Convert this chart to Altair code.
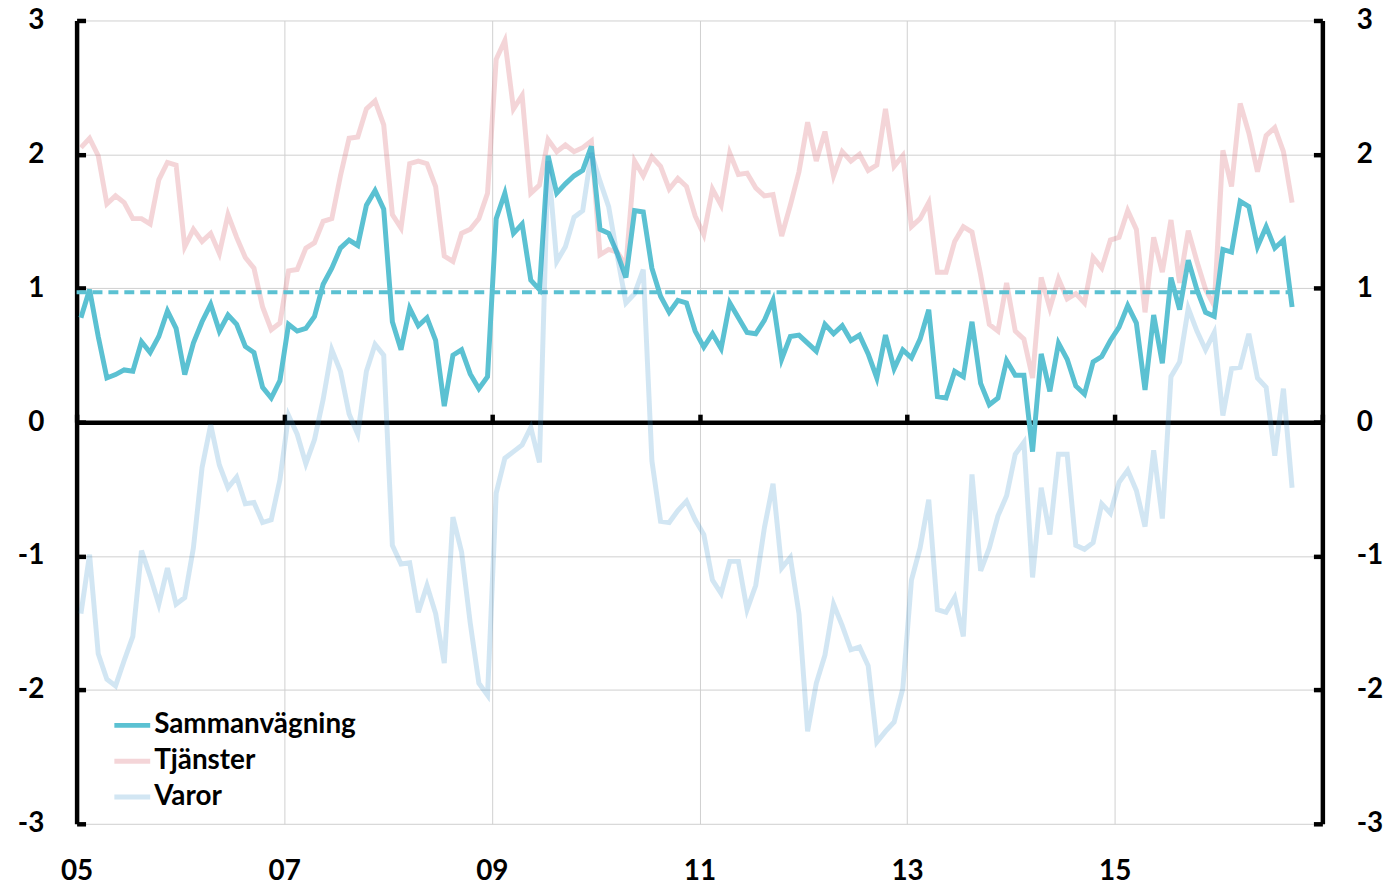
import altair as alt
import pandas as pd

# ---------------- data ----------------
MONTHS = [f"{y}-{m:02d}" for y in range(2005, 2017) for m in range(1, 13)][:141]

SAMMANVAGNING = [
    0.78, 0.99, 0.64, 0.33, 0.355, 0.39, 0.38, 0.60, 0.52, 0.64, 0.83, 0.70,
    0.355, 0.59, 0.75, 0.88, 0.68, 0.80, 0.73, 0.565, 0.52, 0.26, 0.18, 0.31,
    0.73, 0.68, 0.70, 0.79, 1.03, 1.15, 1.30, 1.36, 1.32, 1.62, 1.73, 1.59,
    0.75, 0.54, 0.85, 0.72, 0.78, 0.61, 0.12, 0.50, 0.54, 0.36, 0.25, 0.34,
    1.52, 1.71, 1.41, 1.48, 1.06, 0.99, 1.99, 1.71, 1.78, 1.84, 1.88, 2.06,
    1.44, 1.41, 1.26, 1.08, 1.58, 1.57, 1.15, 0.94, 0.82, 0.91, 0.89, 0.68,
    0.56, 0.66, 0.55, 0.89, 0.78, 0.67, 0.66, 0.76, 0.91, 0.47, 0.64, 0.65,
    0.59, 0.53, 0.73, 0.66, 0.72, 0.61, 0.65, 0.51, 0.33, 0.65, 0.40, 0.54,
    0.48, 0.62, 0.84, 0.19, 0.18, 0.38, 0.34, 0.75, 0.29, 0.13, 0.18, 0.46,
    0.35, 0.35, -0.22, 0.51, 0.23, 0.59, 0.47, 0.27, 0.21, 0.45, 0.49, 0.61,
    0.71, 0.87, 0.74, 0.24, 0.80, 0.44, 1.08, 0.84, 1.21, 0.99, 0.82, 0.79,
    1.29, 1.27, 1.65, 1.61, 1.31, 1.46, 1.30, 1.36, 0.86,
]

TJANSTER = [
    2.05, 2.12, 1.99, 1.63, 1.69, 1.64, 1.52, 1.52, 1.48, 1.81, 1.94, 1.92,
    1.31, 1.44, 1.35, 1.41, 1.26, 1.55, 1.38, 1.23, 1.15, 0.86, 0.69, 0.74,
    1.13, 1.14, 1.30, 1.34, 1.50, 1.52, 1.84, 2.12, 2.13, 2.34, 2.40, 2.22,
    1.55, 1.45, 1.93, 1.95, 1.93, 1.76, 1.24, 1.20, 1.41, 1.44, 1.52, 1.71,
    2.71, 2.85, 2.34, 2.44, 1.71, 1.77, 2.11, 2.02, 2.07, 2.02, 2.05, 2.10,
    1.25, 1.29, 1.27, 1.17, 1.95, 1.84, 1.98, 1.91, 1.74, 1.82, 1.76, 1.54,
    1.40, 1.74, 1.62, 2.01, 1.85, 1.86, 1.75, 1.69, 1.70, 1.39, 1.62, 1.87,
    2.24, 1.95, 2.17, 1.84, 2.02, 1.95, 2.00, 1.88, 1.92, 2.34, 1.91, 1.99,
    1.46, 1.52, 1.64, 1.12, 1.12, 1.35, 1.46, 1.42, 1.10, 0.73, 0.68, 1.04,
    0.68, 0.62, 0.33, 1.08, 0.85, 1.07, 0.92, 0.96, 0.89, 1.23, 1.15, 1.36,
    1.38, 1.58, 1.44, 0.82, 1.38, 1.12, 1.51, 1.04, 1.43, 1.20, 0.99, 0.87,
    2.03, 1.76, 2.38, 2.16, 1.87, 2.14, 2.20, 2.02, 1.64,
]

VAROR = [
    -1.43, -0.99, -1.73, -1.92, -1.97, -1.78, -1.60, -0.96, -1.15, -1.36, -1.09, -1.36,
    -1.31, -0.94, -0.34, -0.02, -0.32, -0.49, -0.41, -0.61, -0.60, -0.75, -0.73, -0.43,
    0.05, -0.09, -0.31, -0.13, 0.17, 0.54, 0.38, 0.06, -0.09, 0.38, 0.58, 0.50,
    -0.92, -1.06, -1.05, -1.42, -1.22, -1.43, -1.80, -0.71, -0.97, -1.50, -1.95, -2.04,
    -0.53, -0.27, -0.22, -0.17, -0.04, -0.30, 1.95, 1.20, 1.31, 1.53, 1.58, 2.01,
    1.80, 1.61, 1.24, 0.89, 0.96, 1.14, -0.29, -0.74, -0.75, -0.66, -0.59, -0.73,
    -0.84, -1.18, -1.28, -1.04, -1.04, -1.40, -1.22, -0.79, -0.46, -1.09, -1.01, -1.43,
    -2.31, -1.95, -1.74, -1.36, -1.52, -1.70, -1.68, -1.82, -2.39, -2.31, -2.24, -1.99,
    -1.18, -0.94, -0.58, -1.40, -1.42, -1.31, -1.60, -0.39, -1.11, -0.94, -0.70, -0.55,
    -0.24, -0.15, -1.16, -0.49, -0.84, -0.24, -0.24, -0.92, -0.95, -0.90, -0.61, -0.68,
    -0.45, -0.36, -0.51, -0.78, -0.21, -0.72, 0.34, 0.45, 0.85, 0.68, 0.54, 0.67,
    0.05, 0.40, 0.41, 0.66, 0.33, 0.26, -0.25, 0.25, -0.49,
]

SERIES = ["Sammanvägning", "Tjänster", "Varor"]
COLORS = ["#5bc1d2", "rgba(217,115,127,0.30)", "rgba(50,140,200,0.22)"]
TARGET = 0.97
X_TICKS = [2005, 2007, 2009, 2011, 2013, 2015]
X_DOMAIN = [2005, 2017]
Y_TICKS = [-3, -2, -1, 0, 1, 2, 3]
Y_DOMAIN = [-3, 3]


def month_pos(m):
    y, mo = m.split("-")
    return int(y) + (int(mo) - 0.5) / 12


rows = []
for name, vals in zip(SERIES, [SAMMANVAGNING, TJANSTER, VAROR]):
    for m, v in zip(MONTHS, vals):
        rows.append({"t": month_pos(m), "serie": name, "v": v})
df = pd.DataFrame(rows)

target_df = pd.DataFrame(
    [{"t0": float(int(MONTHS[0][:4])), "t1": month_pos(MONTHS[-1]), "v": TARGET}]
)

# ---------------- layout ----------------
W, H = 1253, 808
FONT = "Lato"
AXW = 4.5
YLAB = "toString(datum.value)"

xs = alt.Scale(domain=X_DOMAIN, nice=False, zero=False)
ys = alt.Scale(domain=Y_DOMAIN, nice=False, zero=False)

color = alt.Color(
    "serie:N",
    scale=alt.Scale(domain=SERIES, range=COLORS),
    legend=alt.Legend(
        title=None,
        orient="none",
        direction="vertical",
        legendX=35,
        legendY=688,
        symbolType="stroke",
        symbolStrokeWidth=5,
        symbolSize=1300,
        labelFont=FONT,
        labelFontSize=28,
        labelFontWeight="bold",
        labelColor="black",
        labelLimit=0,
        labelOffset=1,
        rowPadding=1,
        padding=0,
    ),
)

base = alt.Chart(df)

# x axis: labels at the bottom + vertical grid ; y axis: left labels + grid
pink = base.transform_filter(alt.datum.serie == "Tjänster").mark_line(strokeWidth=5).encode(
    x=alt.X("t:Q", scale=xs, axis=alt.Axis(
        orient="bottom", values=X_TICKS, grid=True, domain=False, ticks=False,
        labelExpr="substring(toString(datum.value), 2, 4)", labelPadding=34, title=None)),
    y=alt.Y("v:Q", scale=ys, axis=alt.Axis(
        orient="left", values=Y_TICKS, grid=True, domain=True, domainColor="black",
        domainWidth=AXW, ticks=False, labelPadding=33, labelExpr=YLAB, title=None)),
    color=color,
)

# zero line with upward ticks (top axis moved to y=0) ; right labels
teal = base.transform_filter(alt.datum.serie == "Sammanvägning").mark_line(strokeWidth=5).encode(
    x=alt.X("t:Q", scale=xs, axis=alt.Axis(
        orient="top", offset=-H / 2, values=X_TICKS + [X_DOMAIN[1]], grid=False,
        domain=True, domainColor="black", domainWidth=AXW, ticks=True, tickColor="black",
        tickWidth=AXW, tickSize=8, labels=False, title=None)),
    y=alt.Y("v:Q", scale=ys, axis=alt.Axis(
        orient="right", values=Y_TICKS, grid=False, domain=True, domainColor="black",
        domainWidth=AXW, ticks=False, labelPadding=34, labelExpr=YLAB, title=None)),
    color=color,
)

# inward ticks on the left axis
blue = base.transform_filter(alt.datum.serie == "Varor").mark_line(strokeWidth=5).encode(
    x=alt.X("t:Q", scale=xs, axis=None),
    y=alt.Y("v:Q", scale=ys, axis=alt.Axis(
        orient="right", offset=-W, values=Y_TICKS, grid=False, domain=False,
        ticks=True, tickColor="black", tickWidth=AXW, tickSize=9, labels=False, title=None)),
    color=color,
)

# dashed target line ; inward ticks on the right axis
dash = alt.Chart(target_df).mark_rule(color="#5bc1d2", strokeWidth=4, strokeDash=[10, 6]).encode(
    x=alt.X("t0:Q", scale=xs, axis=None),
    x2="t1:Q",
    y=alt.Y("v:Q", scale=ys, axis=alt.Axis(
        orient="left", offset=-W, values=Y_TICKS, grid=False, domain=False,
        ticks=True, tickColor="black", tickWidth=AXW, tickSize=9, labels=False, title=None)),
)

chart = (
    alt.layer(pink, teal, dash, blue)
    .resolve_axis(x="independent", y="independent")
    .properties(
        width=W,
        height=H,
        autosize=alt.AutoSizeParams(type="none"),
        padding={"left": 69, "top": 10, "right": 64, "bottom": 59},
    )
    .configure_view(stroke=None)
    .configure_axis(
        labelFont=FONT,
        labelFontSize=28,
        labelFontWeight="bold",
        labelColor="black",
        labelFlush=False,
        labelOverlap=False,
        gridColor="#d0d0d0",
        gridWidth=1,
    )
)

chart.save("out.html", embed_options={"renderer": "svg", "actions": False})
